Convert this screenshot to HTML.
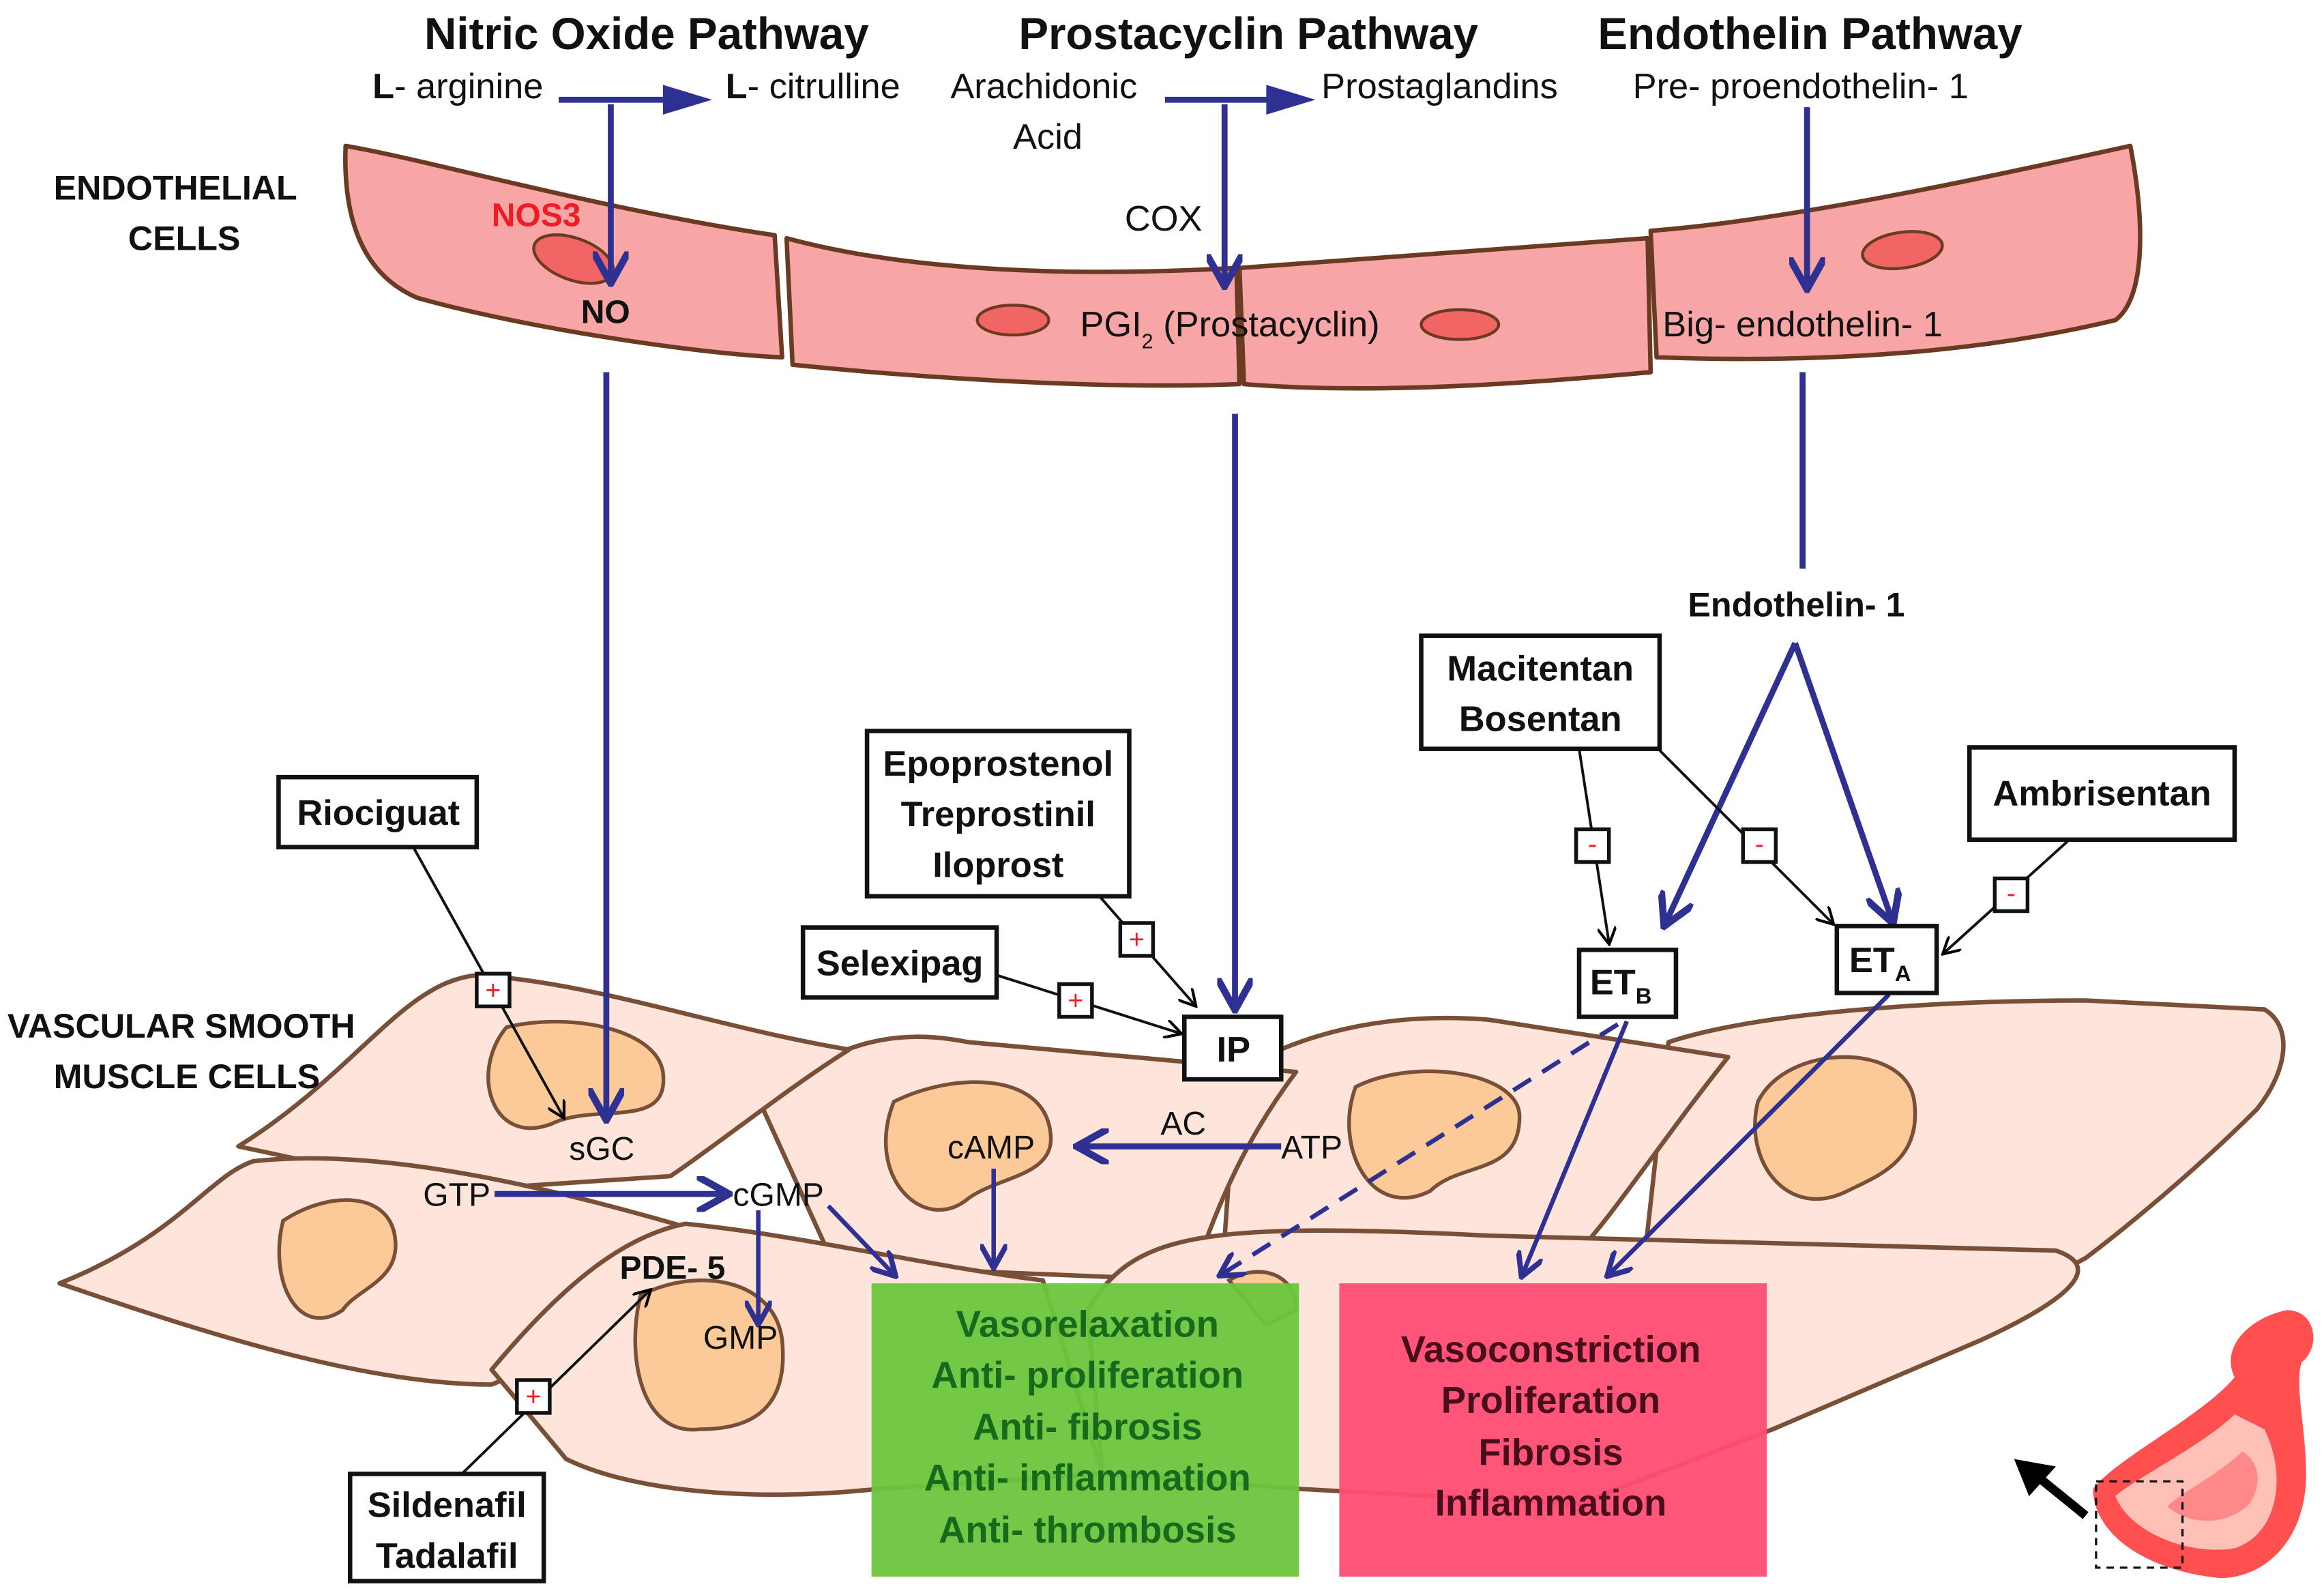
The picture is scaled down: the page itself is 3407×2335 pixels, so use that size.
<!DOCTYPE html>
<html><head><meta charset="utf-8"><style>
html,body{margin:0;padding:0;background:#fff}
svg{display:block}
text{font-family:"Liberation Sans","DejaVu Sans",sans-serif}
</style></head><body>
<svg width="3407" height="2335" viewBox="0 0 1560 1070" preserveAspectRatio="none" xmlns="http://www.w3.org/2000/svg">
<defs>
<marker id="ab" viewBox="0 0 10 10" refX="8" refY="5" markerWidth="6" markerHeight="6" orient="auto"><path d="M0,0 L9,5 L0,10" fill="none" stroke="#2e3192" stroke-width="2"/></marker>
<marker id="ak" viewBox="0 0 10 10" refX="8" refY="5" markerWidth="7" markerHeight="7" orient="auto"><path d="M0,0 L9,5 L0,10" fill="none" stroke="#000" stroke-width="1.5"/></marker>
</defs>
<rect width="1560" height="1070" fill="#fff"/>

<!-- smooth muscle cells -->
<g fill="#fde5dc" stroke="#7a4f37" stroke-width="3" stroke-linejoin="round">
<path d="M1120,700 C1180,680 1300,672 1400,672 L1520,678 C1540,690 1535,720 1515,745 C1470,790 1420,830 1400,845 L1190,960 L1100,880 Z"/>
<path d="M830,720 C880,690 940,680 1000,685 L1160,710 C1120,760 1080,820 1060,840 L820,860 Z"/>
<path d="M510,740 C560,700 600,690 650,700 L870,720 C840,760 820,800 800,860 L560,850 Z"/>
<path d="M160,770 C240,720 270,660 320,655 C400,660 480,690 570,705 C530,730 480,770 450,790 L300,800 Z"/>
<path d="M40,862 C120,830 140,790 170,780 C260,770 380,800 480,830 C430,870 380,910 330,930 C250,930 150,900 40,862 Z"/>
<path d="M330,920 C380,860 420,830 460,822 C540,830 620,850 700,860 L740,990 L590,1000 C500,1010 420,1000 380,980 Z"/>
<path d="M730,880 C760,830 800,820 1000,830 L1380,840 C1410,850 1395,870 1330,900 L1190,960 L1060,1010 L870,1000 L740,990 Z"/>
</g>
<g fill="#fcc998" stroke="#7a4f37" stroke-width="2.5">
<path d="M340,690 C380,680 440,690 445,720 C450,760 400,740 370,755 C330,770 315,720 340,690 Z"/>
<path d="M600,740 C640,720 700,720 705,760 C710,790 670,790 650,805 C620,830 580,790 600,740 Z"/>
<path d="M910,730 C950,710 1020,720 1020,750 C1020,790 980,780 960,800 C920,820 895,770 910,730 Z"/>
<path d="M1180,740 C1200,700 1280,700 1285,740 C1290,780 1260,790 1240,800 C1200,820 1170,780 1180,740 Z"/>
<path d="M190,820 C220,800 260,800 265,830 C270,860 240,865 230,880 C200,900 180,860 190,820 Z"/>
<path d="M430,870 C470,850 520,860 525,900 C530,950 500,960 470,960 C430,965 420,910 430,870 Z"/>
<path d="M825,860 C845,848 870,855 870,880 L850,890 Z"/>
</g>

<!-- endothelial cells -->
<g fill="#f8a5a5" stroke="#6b3a22" stroke-width="3" stroke-linejoin="round">
<path d="M232,98 C290,108 400,140 520,158 L525,240 C470,238 350,220 280,200 C245,185 230,150 232,98 Z"/>
<path d="M528,160 C620,185 740,185 830,180 L832,258 C730,262 600,252 532,245 Z"/>
<path d="M832,180 C900,175 1000,168 1106,160 L1108,250 C1020,258 920,265 835,258 Z"/>
<path d="M1108,155 C1200,148 1330,120 1430,98 C1440,150 1440,200 1420,215 C1350,232 1250,245 1112,240 Z"/>
</g>
<g fill="#f26565" stroke="#6b3a22" stroke-width="2">
<ellipse cx="385" cy="174" rx="28" ry="14" transform="rotate(20 385 174)"/>
<ellipse cx="680" cy="215" rx="24" ry="10"/>
<ellipse cx="980" cy="218" rx="26" ry="10"/>
<ellipse cx="1277" cy="168" rx="27" ry="12" transform="rotate(-8 1277 168)"/>
</g>

<!-- headers -->
<g font-weight="bold" font-size="30" text-anchor="middle" fill="#111">
<text x="434" y="33">Nitric Oxide Pathway</text>
<text x="838" y="33">Prostacyclin Pathway</text>
<text x="1215" y="33">Endothelin Pathway</text>
</g>
<g font-size="24" fill="#111">
<text x="250" y="66"><tspan font-weight="bold">L</tspan>- arginine</text>
<text x="487" y="66"><tspan font-weight="bold">L</tspan>- citrulline</text>
<text x="638" y="66">Arachidonic</text>
<text x="680" y="100">Acid</text>
<text x="887" y="66">Prostaglandins</text>
<text x="1096" y="66">Pre- proendothelin- 1</text>
<text x="755" y="155">COX</text>
<text x="725" y="226">PGI<tspan font-size="14" dy="8">2</tspan><tspan dy="-8"> (Prostacyclin)</tspan></text>
<text x="1116" y="226">Big- endothelin- 1</text>
</g>
<text x="330" y="152" font-size="22" font-weight="bold" fill="#ee1c24">NOS3</text>
<text x="390" y="217" font-size="22" font-weight="bold" fill="#111">NO</text>
<g font-size="23" font-weight="bold" fill="#111">
<text x="36" y="134">ENDOTHELIAL</text>
<text x="86" y="168">CELLS</text>
<text x="5" y="697">VASCULAR SMOOTH</text>
<text x="36" y="731">MUSCLE CELLS</text>
<text x="1133" y="414">Endothelin- 1</text>
</g>

<!-- blue arrows -->
<g stroke="#2e3192" stroke-width="4" fill="none">
<path d="M375,67 H445"/><path d="M782,67 H855"/>
<path d="M410,70 V188" marker-end="url(#ab)"/>
<path d="M822,70 V190" marker-end="url(#ab)"/>
<path d="M1213,72 V192" marker-end="url(#ab)"/>
<path d="M407,250 V750" marker-end="url(#ab)"/>
<path d="M829,278 V676" marker-end="url(#ab)"/>
<path d="M1210,250 V382"/>
<path d="M1205,432 L1118,620" marker-end="url(#ab)"/>
<path d="M1205,432 L1270,618" marker-end="url(#ab)"/>
<path d="M860,770 H725" marker-end="url(#ab)"/>
<path d="M332,802 H487" marker-end="url(#ab)"/>
</g>
<polygon points="445,57 478,67 445,77" fill="#2e3192"/>
<polygon points="850,57 883,67 850,77" fill="#2e3192"/>
<g stroke="#2e3192" stroke-width="3" fill="none">
<path d="M667,785 V850" marker-end="url(#ab)"/>
<path d="M509,813 V888" marker-end="url(#ab)"/>
<path d="M556,810 L600,856" marker-end="url(#ab)"/>
<path d="M1092,686 L1022,856" marker-end="url(#ab)"/>
<path d="M1268,668 L1080,856" marker-end="url(#ab)"/>
<path d="M1086,688 L820,856" stroke-dasharray="14,9" marker-end="url(#ab)"/>
</g>

<!-- muscle labels -->
<g font-size="22" fill="#111">
<text x="382" y="779">sGC</text>
<text x="284" y="810">GTP</text>
<text x="492" y="810">cGMP</text>
<text x="636" y="778">cAMP</text>
<text x="779" y="762">AC</text>
<text x="860" y="778">ATP</text>
<text x="472" y="906">GMP</text>
</g>
<text x="416" y="859" font-size="22" font-weight="bold" fill="#111">PDE- 5</text>

<!-- drug boxes -->
<g fill="#fff" stroke="#111" stroke-width="3">
<rect x="187" y="522" width="133" height="47"/>
<rect x="582" y="491" width="176" height="111"/>
<rect x="539" y="623" width="130" height="47"/>
<rect x="795" y="683" width="65" height="42"/>
<rect x="954" y="427" width="160" height="76"/>
<rect x="1322" y="502" width="178" height="62"/>
<rect x="1060" y="638" width="65" height="45"/>
<rect x="1233" y="622" width="67" height="45"/>
<rect x="235" y="990" width="130" height="72"/>
</g>
<g font-size="24" font-weight="bold" fill="#111" text-anchor="middle">
<text x="254" y="554">Riociguat</text>
<text x="670" y="521">Epoprostenol</text>
<text x="670" y="555">Treprostinil</text>
<text x="670" y="589">Iloprost</text>
<text x="604" y="655">Selexipag</text>
<text x="828" y="713">IP</text>
<text x="1034" y="457">Macitentan</text>
<text x="1034" y="491">Bosentan</text>
<text x="1411" y="541">Ambrisentan</text>
<text x="1088" y="668">ET<tspan font-size="15" dy="6">B</tspan></text>
<text x="1262" y="653">ET<tspan font-size="15" dy="6">A</tspan></text>
<text x="300" y="1019">Sildenafil</text>
<text x="300" y="1053">Tadalafil</text>
</g>

<!-- black thin connectors -->
<g stroke="#111" stroke-width="1.8" fill="none">
<path d="M278,570 L378,750" marker-end="url(#ak)"/>
<path d="M738,602 L802,675" marker-end="url(#ak)"/>
<path d="M669,655 L792,694" marker-end="url(#ak)"/>
<path d="M1060,503 L1080,633" marker-end="url(#ak)"/>
<path d="M1113,503 L1230,620" marker-end="url(#ak)"/>
<path d="M1388,565 L1305,640" marker-end="url(#ak)"/>
<path d="M310,990 L436,867" marker-end="url(#ak)"/>
</g>
<g fill="#fff" stroke="#111" stroke-width="2.5">
<rect x="320" y="654" width="22" height="22"/>
<rect x="752" y="620" width="22" height="22"/>
<rect x="711" y="661" width="22" height="22"/>
<rect x="1058" y="557" width="22" height="22"/>
<rect x="1170" y="557" width="22" height="22"/>
<rect x="1339" y="590" width="22" height="22"/>
<rect x="347" y="927" width="22" height="22"/>
</g>
<g font-size="18" fill="#ee1c24" text-anchor="middle">
<text x="331" y="671">+</text><text x="763" y="637">+</text><text x="722" y="678">+</text>
<text x="1069" y="573">-</text><text x="1181" y="573">-</text><text x="1350" y="606">-</text>
<text x="358" y="944">+</text>
</g>

<!-- effect boxes -->
<rect x="585" y="862" width="287" height="197" fill="#6cc63d" opacity="0.95"/>
<rect x="899" y="862" width="287" height="197" fill="#ff4d73" opacity="0.95"/>
<g font-size="25" font-weight="bold" text-anchor="middle">
<g fill="#176a1b">
<text x="730" y="898">Vasorelaxation</text>
<text x="730" y="932">Anti- proliferation</text>
<text x="730" y="967">Anti- fibrosis</text>
<text x="730" y="1001">Anti- inflammation</text>
<text x="730" y="1036">Anti- thrombosis</text>
</g>
<g fill="#4a0d1c">
<text x="1041" y="915">Vasoconstriction</text>
<text x="1041" y="949">Proliferation</text>
<text x="1041" y="984">Fibrosis</text>
<text x="1041" y="1018">Inflammation</text>
</g>
</g>

<!-- vessel icon -->
<path d="M1500,925 C1490,905 1510,885 1535,880 C1555,880 1558,905 1545,915 C1540,930 1548,960 1548,990 C1548,1035 1520,1060 1490,1060 C1440,1055 1405,1030 1405,1000 C1420,980 1480,950 1500,925 Z" fill="#ff4f4f"/>
<path d="M1500,950 C1480,970 1430,995 1420,1005 C1430,1030 1470,1045 1500,1040 C1530,1030 1535,990 1520,960 Z" fill="#ffc0b8"/>
<path d="M1505,975 C1490,990 1460,1005 1455,1012 C1470,1025 1495,1025 1510,1010 C1520,995 1515,980 1505,975 Z" fill="#f88"/>
<rect x="1407" y="995" width="58" height="58" fill="none" stroke="#111" stroke-width="1.5" stroke-dasharray="5,4"/>
<path d="M1400,1018 L1368,992" stroke="#000" stroke-width="6"/>
<polygon points="1352,980 1380,985 1362,1005" fill="#000"/>
</svg>
</body></html>
